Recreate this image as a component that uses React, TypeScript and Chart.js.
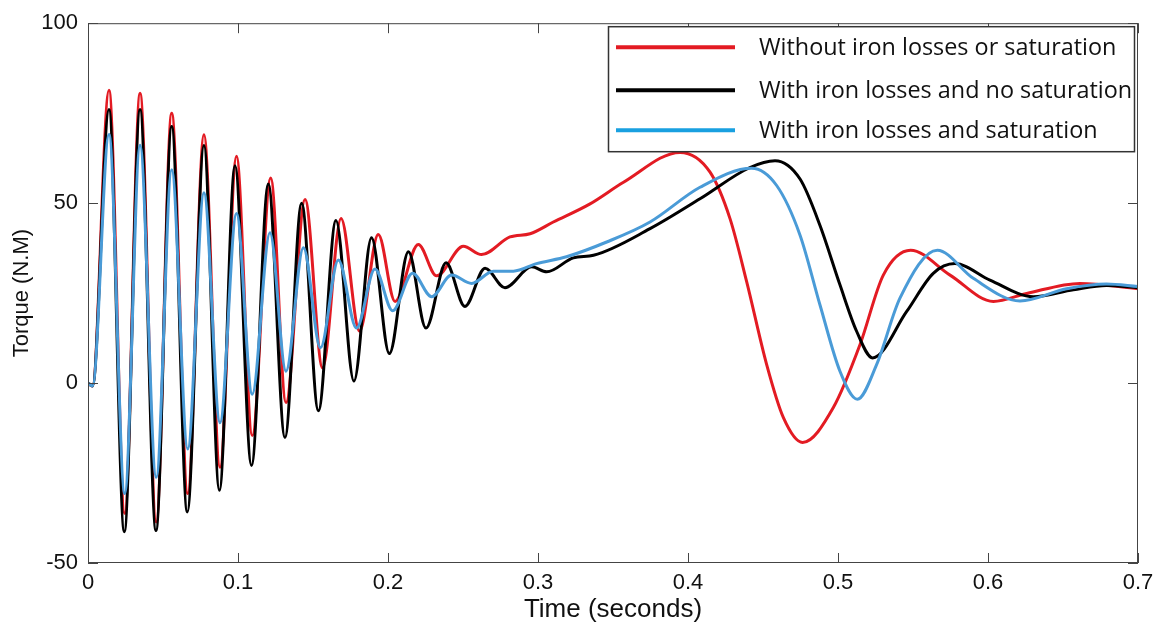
import React, { useEffect, useRef } from 'react';
import { Chart, registerables } from 'chart.js';

Chart.register(...registerables);

const seriesLabels = [
  'Without iron losses or saturation',
  'With iron losses and no saturation',
  'With iron losses and saturation',
];
const seriesColors = ['#e31b23', '#000000', '#4a9bd7'];
const legendColors = ['#e31b23', '#000000', '#19a0e0'];

const xTickValues = [0, 0.1, 0.2, 0.3, 0.4, 0.5, 0.6, 0.7];
const xTickLabels = ['0', '0.1', '0.2', '0.3', '0.4', '0.5', '0.6', '0.7'];
const yTickValues = [-50, 0, 50, 100];
const yTickLabels = ['-50', '0', '50', '100'];

const xTitle = 'Time (seconds)';
const yTitle = 'Torque (N.M)';

// [time (s), torque (N.M)]
const redSeries: [number, number][] = [
  [0, 0], [0.003, -0.8], [0.014, 81.4], [0.0245, -36.2], [0.0347, 80.5], [0.0455, -38.6],
  [0.0558, 75], [0.0665, -30.7], [0.0773, 69], [0.088, -23.4], [0.099, 63], [0.1095, -14.6],
  [0.1218, 57], [0.132, -5.4], [0.1447, 51], [0.1564, 4.2], [0.1687, 45.7], [0.181, 14.4],
  [0.1935, 41.3], [0.2047, 22.7], [0.2202, 38.5], [0.2324, 29.8], [0.2502, 38], [0.2624, 35.7],
  [0.2813, 40.6], [0.2947, 41.5], [0.3102, 44.75], [0.3347, 49.8], [0.357, 55.8], [0.3947, 64.1],
  [0.4147, 58.6], [0.428, 45.7], [0.4391, 28.2], [0.4524, 5.2], [0.4636, -9.6], [0.4764, -16.5],
  [0.4969, -6.8], [0.5147, 10.7], [0.5302, 30], [0.5484, 36.9], [0.5747, 30], [0.6036, 22.7],
  [0.6258, 24.9], [0.6613, 27.7], [0.7, 26.2],
];

const blackSeries: [number, number][] = [
  [0, 0], [0.003, -0.8], [0.014, 76], [0.0242, -41.3], [0.0347, 76], [0.0453, -41],
  [0.0558, 71.3], [0.0662, -35.8], [0.0773, 66], [0.0876, -29.8], [0.098, 60.4], [0.109, -22.9],
  [0.1202, 55.3], [0.1313, -15.1], [0.1424, 50], [0.1536, -7.7], [0.1653, 45.2], [0.1773, 0.55],
  [0.189, 40.4], [0.2009, 8.2], [0.2136, 36.5], [0.2253, 15.3], [0.2387, 33.4], [0.2513, 21.3],
  [0.2647, 31.9], [0.278, 26.5], [0.2958, 32.3], [0.3058, 30.9], [0.3236, 34.8], [0.337, 35.5],
  [0.3747, 42.9], [0.408, 51.2], [0.4413, 59.9], [0.458, 61.8], [0.4747, 56.7], [0.488, 43.8],
  [0.5013, 27.3], [0.5124, 14.4], [0.5231, 7], [0.5458, 19.9], [0.5635, 30.5], [0.578, 33.2],
  [0.6013, 28.6], [0.6302, 24], [0.6569, 25.9], [0.679, 27.1], [0.7, 26.5],
];

const blueSeries: [number, number][] = [
  [0, 0], [0.003, -0.8], [0.014, 69.1], [0.0245, -30.7], [0.0347, 66.1], [0.0455, -26.2],
  [0.0558, 59.3], [0.0665, -18.3], [0.0773, 52.9], [0.088, -11], [0.099, 47.1], [0.1095, -3.1],
  [0.1213, 41.8], [0.132, 3.3], [0.1436, 37.6], [0.155, 9.8], [0.1669, 34.2], [0.179, 15.3],
  [0.1913, 31.7], [0.2031, 20.1], [0.2164, 30.5], [0.2291, 24], [0.2424, 30], [0.2558, 27.7],
  [0.2702, 31.1], [0.2836, 31.1], [0.299, 33.2], [0.319, 35.1], [0.3458, 39.2], [0.3747, 44.75],
  [0.408, 54.4], [0.4424, 59.7], [0.4591, 54.9], [0.4747, 41.1], [0.488, 21.7], [0.5013, 3.3],
  [0.5129, -4.5], [0.5258, 5.2], [0.5413, 23.6], [0.5662, 36.9], [0.5902, 29.1], [0.6213, 22.8],
  [0.6524, 26.2], [0.679, 27.5], [0.7, 26.8],
];

const allSeries = [redSeries, blackSeries, blueSeries];

const framePlugin = {
  id: 'frameAndLegend',
  afterDraw(chart: any) {
    const { ctx, chartArea, scales } = chart;
    const { left, right, top, bottom } = chartArea;
    ctx.save();
    ctx.strokeStyle = '#444';
    ctx.lineWidth = 1;
    ctx.strokeRect(left + 0.5, top + 0.5, right - left - 1, bottom - top - 1);
    const tl = 10;
    ctx.beginPath();
    xTickValues.forEach((v) => {
      const px = Math.round(scales.x.getPixelForValue(v)) + 0.5;
      ctx.moveTo(px, bottom);
      ctx.lineTo(px, bottom - tl);
      ctx.moveTo(px, top);
      ctx.lineTo(px, top + tl);
    });
    yTickValues.forEach((v) => {
      const py = Math.round(scales.y.getPixelForValue(v)) + 0.5;
      ctx.moveTo(left, py);
      ctx.lineTo(left + tl, py);
      ctx.moveTo(right, py);
      ctx.lineTo(right - tl, py);
    });
    ctx.stroke();

    // legend box
    const bx = right - 530;
    const by = top + 3;
    const bw = 526;
    const bh = 125;
    ctx.fillStyle = '#ffffff';
    ctx.fillRect(bx, by, bw, bh);
    ctx.strokeStyle = '#333';
    ctx.lineWidth = 1.5;
    ctx.strokeRect(bx + 0.5, by + 0.5, bw, bh);
    const rows = [21, 64, 104];
    ctx.font = '23.4px "Open Sans"';
    ctx.textBaseline = 'middle';
    ctx.textAlign = 'left';
    seriesLabels.forEach((label, i) => {
      const cy = by + rows[i];
      ctx.strokeStyle = legendColors[i];
      ctx.lineWidth = 4;
      ctx.beginPath();
      ctx.moveTo(bx + 8, cy);
      ctx.lineTo(bx + 127, cy);
      ctx.stroke();
      ctx.fillStyle = '#111';
      ctx.fillText(label, bx + 151, cy + 1);
    });
    ctx.restore();
  },
};

export default function App() {
  const canvasRef = useRef<HTMLCanvasElement | null>(null);

  useEffect(() => {
    const canvas = canvasRef.current;
    if (!canvas) return;
    const drawOrder = [2, 1, 0];
    const chart = new Chart(canvas, {
      type: 'line',
      data: {
        datasets: allSeries.map((s, i) => ({
          label: seriesLabels[i],
          data: s.map(([x, y]) => ({ x, y })),
          borderColor: seriesColors[i],
          backgroundColor: seriesColors[i],
          borderWidth: 3,
          pointRadius: 0,
          fill: false,
          cubicInterpolationMode: 'monotone' as const,
          order: drawOrder[i],
        })),
      },
      options: {
        animation: false,
        responsive: false,
        maintainAspectRatio: false,
        events: [],
        layout: { padding: { left: 0, right: 26, top: 20, bottom: 0 } },
        plugins: {
          legend: { display: false },
          tooltip: { enabled: false },
        },
        scales: {
          x: {
            type: 'linear',
            min: 0,
            max: 0.7,
            grid: { display: false, drawTicks: false },
            border: { display: false },
            afterBuildTicks: (scale: any) => {
              scale.ticks = xTickValues.map((v) => ({ value: v }));
            },
            afterFit: (scale: any) => {
              scale.height = 67;
            },
            ticks: {
              padding: 7,
              maxRotation: 0,
              autoSkip: false,
              color: '#111',
              font: { family: '"Liberation Sans", Arial, sans-serif', size: 22 },
              callback: (v: any) => {
                const idx = xTickValues.findIndex((t) => Math.abs(t - Number(v)) < 1e-9);
                return idx >= 0 ? xTickLabels[idx] : '';
              },
            },
            title: {
              display: true,
              text: xTitle,
              color: '#111',
              padding: { top: 0, bottom: 5 },
              font: { family: '"Liberation Sans", Arial, sans-serif', size: 26 },
            },
          },
          y: {
            type: 'linear',
            min: -50,
            max: 100,
            grid: { display: false, drawTicks: false },
            border: { display: false },
            afterBuildTicks: (scale: any) => {
              scale.ticks = yTickValues.map((v) => ({ value: v }));
            },
            afterFit: (scale: any) => {
              scale.width = 88;
            },
            ticks: {
              padding: 10,
              autoSkip: false,
              color: '#111',
              font: { family: '"Liberation Sans", Arial, sans-serif', size: 22 },
              callback: (v: any) => {
                const idx = yTickValues.indexOf(Number(v));
                return idx >= 0 ? yTickLabels[idx] : '';
              },
            },
            title: {
              display: true,
              text: yTitle,
              color: '#111',
              padding: { top: 9, bottom: 0 },
              font: { family: '"Liberation Sans", Arial, sans-serif', size: 22 },
            },
          },
        },
      },
      plugins: [framePlugin],
    });
    return () => chart.destroy();
  }, []);

  return (
    <div style={{ position: 'absolute', left: 0, top: 0, width: 1164, height: 630, background: '#fff' }}>
      <canvas ref={canvasRef} width={1164} height={630} style={{ width: 1164, height: 630, display: 'block' }} />
    </div>
  );
}
